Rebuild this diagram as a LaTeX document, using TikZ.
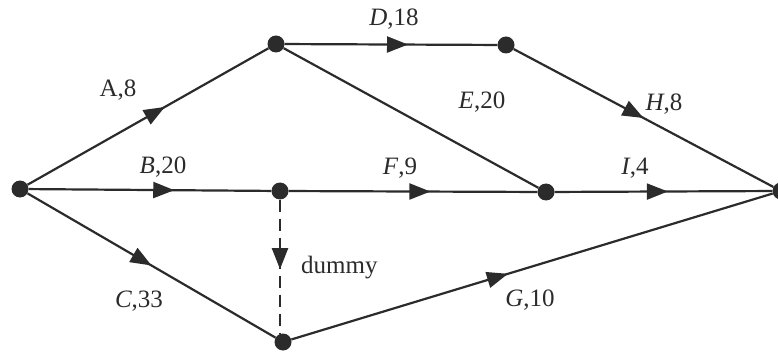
\documentclass[tikz,border=0pt]{standalone}
\usepackage{fontspec}
\setmainfont{Liberation Serif}
\usetikzlibrary{decorations.markings,arrows.meta}
\definecolor{ink}{HTML}{2B2B2B}
\tikzset{
  x=1pt,y=1pt,
  vertex/.style={circle,fill=ink,draw=none,minimum size=17pt,inner sep=0pt},
  edge/.style={draw=ink,line width=2.2pt,postaction={decorate},
    decoration={markings,mark=at position #1 with {\arrow{Triangle[length=21pt,width=16pt]}}}},
  edge/.default=0.57,
  plain/.style={draw=ink,line width=2.2pt},
  lab/.style={inner sep=0pt,anchor=base,font=\fontsize{25}{28}\selectfont,text=ink}
}
\begin{document}
\begin{tikzpicture}
\useasboundingbox (0,0) rectangle (778,351);
\node[vertex] (S) at (20,162) {};
\node[vertex] (T) at (276,307) {};
\node[vertex] (Dn) at (506,306) {};
\node[vertex] (M) at (280,160) {};
\node[vertex] (E) at (546,159) {};
\node[vertex] (End) at (781,160) {};
\node[vertex] (B) at (283,9) {};

\draw[edge] (S) -- (T);
\draw[edge=0.6] (S) -- (M);
\draw[edge=0.5] (S) -- (B);
\draw[edge=0.58] (T) -- (Dn);
\draw[plain] (T) -- (E);
\draw[edge] (M) -- (E);
\draw[edge=0.5] (Dn) -- (End);
\draw[edge=0.52] (E) -- (End);
\draw[edge=0.45] (B) -- (End);
\draw[draw=ink,line width=2.2pt,dash pattern=on 12pt off 7pt,postaction={decorate},
  decoration={markings,mark=at position 0.52 with {\arrow{Triangle[length=21pt,width=16pt]}}}]
  (M.south) -- (M.south |- B.north);

\node[lab] (lA) at (118,254) {A,8};
\node[lab] (lB) at (163,178) {\textit{B},20};
\node[lab] (lC) at (139,44) {\textit{C},33};
\node[lab] (lD) at (394,325) {\textit{D},18};
\node[lab] (lE) at (482,242) {\textit{E},20};
\node[lab] (lF) at (400,176) {\textit{F},9};
\node[lab] (lH) at (664,240) {\textit{H},8};
\node[lab] (lI) at (635,176) {\textit{I},4};
\node[lab] (lG) at (530,45) {\textit{G},10};
\node[lab,anchor=base west] (ld) at (301,78) {dummy};
\end{tikzpicture}
\end{document}
